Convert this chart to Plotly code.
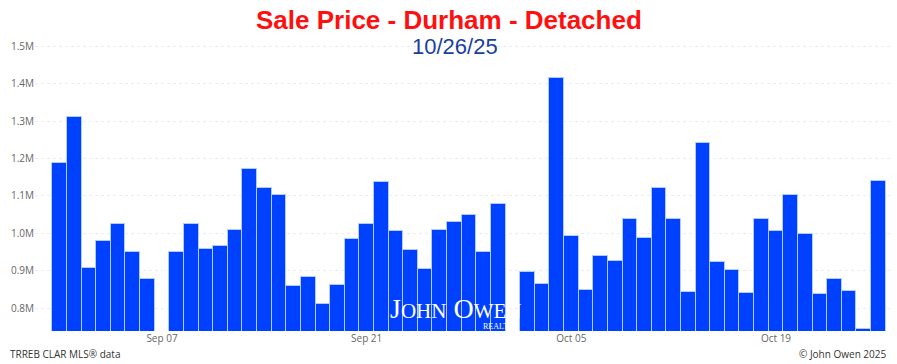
import pandas as pd
import plotly.graph_objects as go

dates = pd.date_range("2025-08-31", "2025-10-26", freq="D")
prices = [
    1189000, 1310000, 908000, 979000, 1026000, 951000, 878000,  # Aug31-Sep6
    None,  # Sep 7
    951000, 1026000, 959000, 967000, 1010000, 1173000, 1120000, 1101000,  # Sep8-15
    860000, 882000, 810000, 862000, 984000, 1026000, 1136000, 1006000,  # Sep16-23
    956000, 904000, 1010000, 1031000, 1050000, 951000, 1079000,  # Sep24-30
    None,  # Oct 1
    896000, 863000, 1416000, 992000, 849000, 938000, 927000, 1039000,  # Oct2-9
    988000, 1121000, 1038000, 843000, 1242000, 922000, 902000, 840000,  # Oct10-17
    1037000, 1005000, 1103000, 997000, 837000, 877000, 845000, 745000, 1139000,  # Oct18-26
]
y_ticks = [800000, 900000, 1000000, 1100000, 1200000, 1300000, 1400000, 1500000]
y_tick_text = [f"{v/1e6:.1f}M" for v in y_ticks]
title_text = "Sale Price - Durham - Detached"
subtitle_text = "10/26/25"

fig = go.Figure(go.Bar(
    x=dates, y=prices,
    marker=dict(color="#0040FF", line=dict(color="#B0CCFF", width=1)),
))

fig.update_layout(
    width=897, height=364,
    margin=dict(l=35, r=7, t=28, b=33),
    plot_bgcolor="white", paper_bgcolor="white",
    bargap=0, showlegend=False,
    font=dict(family="Open Sans, DejaVu Sans, sans-serif", size=10, color="#666"),
    xaxis=dict(
        range=["2025-08-29 07:30", "2025-10-26 19:10"],
        tick0="2025-09-07", dtick=14 * 86400000, tickformat="%b %d",
        showgrid=False, zeroline=False, showline=False, ticks="",
        tickfont=dict(size=10, color="#666"),
    ),
    yaxis=dict(
        range=[738500, 1549000],
        tickvals=y_ticks, ticktext=y_tick_text,
        showgrid=True, gridcolor="#ececec", griddash="dot", gridwidth=1,
        zeroline=False, showline=False, ticks="",
        tickfont=dict(size=10, color="#666"),
    ),
    annotations=[
        dict(text="<b>" + title_text + "</b>", xref="paper", yref="paper",
             x=(449 - 35) / 855, y=1 + 8 / 303, xanchor="center", yanchor="middle",
             showarrow=False, font=dict(family="Liberation Sans, Arial", size=26, color="#FF1010")),
        dict(text=subtitle_text, xref="paper", yref="paper",
             x=(455 - 35) / 855, y=1 - 18 / 303, xanchor="center", yanchor="middle",
             showarrow=False, font=dict(family="Liberation Sans, Arial", size=22, color="#1A3FA0")),
        dict(text="TRREB CLAR MLS® data", xref="paper", yref="paper",
             x=-27 / 855, y=-23 / 303, xanchor="left", yanchor="middle",
             showarrow=False, font=dict(family="Open Sans, DejaVu Sans", size=10, color="#333")),
        dict(text="© John Owen 2025", xref="paper", yref="paper",
             x=(889 - 35) / 855, y=-23 / 303, xanchor="right", yanchor="middle",
             showarrow=False, font=dict(family="Open Sans, DejaVu Sans", size=10, color="#333")),
        dict(text="J<span style='font-size:21px'>OHN</span> O<span style='font-size:21px'>WEN</span>",
             xref="paper", yref="paper", x=(455 - 35) / 855, y=(331 - 308) / 303,
             xanchor="center", yanchor="middle", showarrow=False,
             font=dict(family="Liberation Serif, DejaVu Serif, serif", size=28, color="white")),
        dict(text="REALTOR", xref="paper", yref="paper", x=(522 - 35) / 855, y=(331 - 326) / 303,
             xanchor="right", yanchor="middle", showarrow=False,
             font=dict(family="Liberation Serif, DejaVu Serif, serif", size=8, color="white")),
    ],
)

fig.write_html("out.html")
